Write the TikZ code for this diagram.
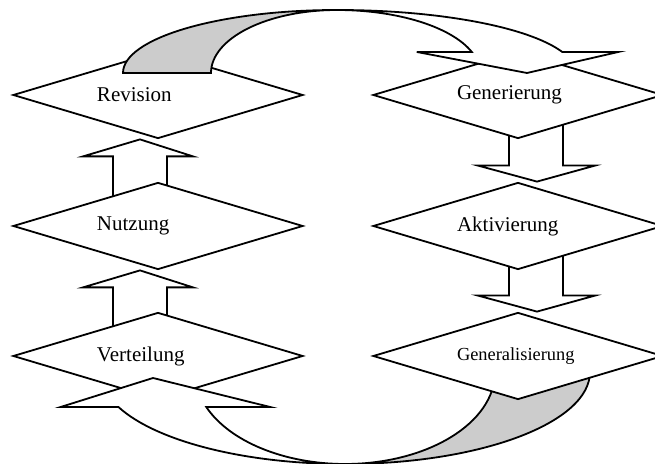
\documentclass[tikz,border=0pt]{standalone}
\usepackage{fontspec}
\setmainfont{Liberation Serif}
\usetikzlibrary{shapes.geometric,calc,backgrounds}
\definecolor{ribGray}{RGB}{204,204,204}

\begin{document}
\begin{tikzpicture}[
  x=0.5pt, y=0.5pt,
  line width=0.9pt,
  phase/.style={draw, shape=diamond, fill=white, aspect=3.3, inner sep=0pt,
                minimum width=145pt, minimum height=43.5pt,
                text width=61pt, align=left, line width=0.9pt,
                font=\fontsize{10.5}{12}\selectfont},
  blk/.style={draw, fill=white, line width=0.9pt},
  rib/.style={draw, fill=white, line width=0.9pt},
]
\useasboundingbox (0,0) rectangle (655,-464);

\node[phase] (rev)  at (158,-95)  {Revision};
\node[phase] (nutz) at (158,-226) {Nutzung};
\node[phase] (ver)  at (158,-356) {Verteilung};
\node[phase] (gen)  at (518,-95)  {Generierung};
\node[phase] (akt)  at (518,-226) {Aktivierung};
\node[phase, font=\fontsize{9.2}{11}\selectfont] (genl) at (518,-356)
  {Generalisierung};

\coordinate (topc) at ($(rev.center)!.5!(gen.center)+(-1,22)$);
\coordinate (botc) at ($(ver.center)!.5!(genl.center)+(7,-16)$);

\begin{scope}[on background layer]
% block arrows, left column upwards
\draw[blk] ($(nutz.center)+(-45,0)$) -- ($(rev.south)+(-45,-17)$)
  -- ($(rev.south)+(-75,-17)$) -- ($(rev.south)+(-18,0)$)
  -- ($(rev.south)+(35,-17)$) -- ($(rev.south)+(9,-17)$)
  -- ($(nutz.center)+(9,0)$) -- cycle;
\draw[blk] ($(ver.center)+(-45,0)$) -- ($(nutz.south)+(-45,-17)$)
  -- ($(nutz.south)+(-75,-17)$) -- ($(nutz.south)+(-18,0)$)
  -- ($(nutz.south)+(35,-17)$) -- ($(nutz.south)+(9,-17)$)
  -- ($(ver.center)+(9,0)$) -- cycle;

% block arrows, right column downwards
\draw[blk] ($(gen.center)+(-9,0)$) -- ($(akt.north)+(-9,16)$)
  -- ($(akt.north)+(-40,16)$) -- ($(akt.north)+(19,0)$)
  -- ($(akt.north)+(77,16)$) -- ($(akt.north)+(45,16)$)
  -- ($(gen.center)+(45,0)$) -- cycle;
\draw[blk] ($(akt.center)+(-9,0)$) -- ($(genl.north)+(-9,16)$)
  -- ($(genl.north)+(-40,16)$) -- ($(genl.north)+(19,0)$)
  -- ($(genl.north)+(77,16)$) -- ($(genl.north)+(45,16)$)
  -- ($(akt.center)+(45,0)$) -- cycle;

% back side of the lower bend
\draw[rib, fill=ribGray] ($(botc)+(245,0)$)
  arc[start angle=0, end angle=-90, x radius=245, y radius=92]
  arc[start angle=-90, end angle=0, x radius=150, y radius=92] -- cycle;
\end{scope}

% upper bend: back side, then front with head
\draw[rib, fill=ribGray] ($(topc)+(-214,0)$)
  arc[start angle=180, end angle=90, x radius=214, y radius=63]
  arc[start angle=90, end angle=180, x radius=126, y radius=63] -- cycle;
\draw[rib] ($(topc)+(0,63)$)
  arc[start angle=90, end angle=19.5, x radius=239, y radius=63]
  -- ++(56,0) -- ($(gen.center)+(9,22)$)
  -- ($(topc)+(19.5:143 and 63)+(-55,0)$) -- ($(topc)+(19.5:143 and 63)$)
  arc[start angle=19.5, end angle=90, x radius=143, y radius=63] -- cycle;

% lower bend: front with head
\draw[rib] ($(botc)+(0,-92)$)
  arc[start angle=270, end angle=202.4, x radius=245, y radius=92]
  -- ++(-58,0) -- ($(ver.center)+(-5,-22)$)
  -- ($(botc)+(202.4:150 and 92)+(64,0)$) -- ($(botc)+(202.4:150 and 92)$)
  arc[start angle=202.4, end angle=270, x radius=150, y radius=92] -- cycle;
\end{tikzpicture}
\end{document}
